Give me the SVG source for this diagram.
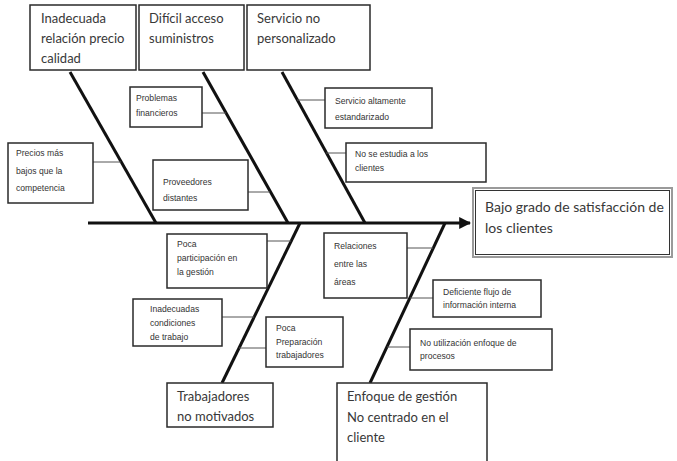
<svg xmlns="http://www.w3.org/2000/svg" width="677" height="461" viewBox="0 0 677 461">
  <defs>
    <marker id="arrow" viewBox="0 0 10 10" refX="9" refY="5" markerWidth="4" markerHeight="4" orient="auto" markerUnits="strokeWidth">
      <path d="M0,0 L10,5 L0,10 z" fill="#111"/>
    </marker>
    <style>
      .box { fill: #fff; stroke: #2a2a2a; stroke-width: 1.5; }
      .big { font-family: Lato, "Open Sans", "Liberation Sans", sans-serif; font-size: 13px; fill: #383838; }
      .small { font-family: "Liberation Sans", Arial, sans-serif; font-size: 8.6px; fill: #333; }
      .bone { stroke: #111; stroke-width: 3; fill: none; stroke-linecap: butt; }
      .link { stroke: #555; stroke-width: 1; fill: none; }
    </style>
  </defs>
  <rect width="677" height="461" fill="#fff"/>

  <!-- spine and bones -->
  <g id="connectors">
    <line class="bone" x1="88" y1="223" x2="470" y2="223" marker-end="url(#arrow)"/>
    <line class="bone" x1="70" y1="72" x2="156" y2="223"/>
    <line class="bone" x1="203" y1="72" x2="288" y2="223"/>
    <line class="bone" x1="282" y1="72" x2="365" y2="223"/>
    <line class="bone" x1="300" y1="223" x2="222" y2="383"/>
    <line class="bone" x1="445" y1="223" x2="370" y2="383"/>
    <line class="link" x1="202" y1="113" x2="226" y2="113"/>
    <line class="link" x1="297" y1="100" x2="325" y2="100"/>
    <line class="link" x1="326" y1="153" x2="346" y2="153"/>
    <line class="link" x1="93" y1="162" x2="121" y2="162"/>
    <line class="link" x1="248" y1="192" x2="270" y2="192"/>
    <line class="link" x1="267" y1="241" x2="291" y2="241"/>
    <line class="link" x1="222" y1="317" x2="254" y2="317"/>
    <line class="link" x1="239" y1="348" x2="266" y2="348"/>
    <line class="link" x1="407" y1="248" x2="433" y2="248"/>
    <line class="link" x1="410" y1="298" x2="433" y2="298"/>
    <line class="link" x1="387" y1="347" x2="410" y2="347"/>
  </g>

  <!-- main categories -->
  <g id="cat-precio">
    <rect class="box" x="30" y="5" width="106" height="65"/>
    <text class="big" x="41" y="23">Inadecuada</text>
    <text class="big" x="41" y="43">relación precio</text>
    <text class="big" x="41" y="63">calidad</text>
  </g>
  <g id="cat-suministros">
    <rect class="box" x="139" y="5" width="105" height="65"/>
    <text class="big" x="149" y="23">Difícil acceso</text>
    <text class="big" x="149" y="43">suministros</text>
  </g>
  <g id="cat-servicio">
    <rect class="box" x="247" y="5" width="123" height="65"/>
    <text class="big" x="257" y="23">Servicio no</text>
    <text class="big" x="257" y="43">personalizado</text>
  </g>
  <g id="cat-trabajadores">
    <rect class="box" x="167" y="383" width="106" height="44"/>
    <text class="big" x="177" y="401">Trabajadores</text>
    <text class="big" x="177" y="421">no motivados</text>
  </g>
  <g id="cat-enfoque">
    <rect class="box" x="337" y="383" width="150" height="85"/>
    <text class="big" x="347" y="401">Enfoque de gestión</text>
    <text class="big" x="347" y="422">No centrado en el</text>
    <text class="big" x="347" y="442">cliente</text>
  </g>

  <!-- effect: double outline -->
  <g id="effect">
    <rect x="473" y="188" width="199" height="69" fill="#fff" stroke="#9a9a9a" stroke-width="2"/>
    <rect x="475.5" y="190.5" width="194" height="64" fill="none" stroke="#333" stroke-width="1"/>
    <text class="big" x="485" y="212" style="font-size:14px">Bajo grado de satisfacción de</text>
    <text class="big" x="485" y="233" style="font-size:14px">los clientes</text>
  </g>

  <!-- sub-causes -->
  <g id="sub-financieros">
    <rect class="box" x="130" y="87" width="72" height="40"/>
    <text class="small" x="136" y="101">Problemas</text>
    <text class="small" x="136" y="116">financieros</text>
  </g>
  <g id="sub-estandarizado">
    <rect class="box" x="325" y="88" width="107" height="40"/>
    <text class="small" x="335" y="104">Servicio altamente</text>
    <text class="small" x="335" y="120">estandarizado</text>
  </g>
  <g id="sub-estudia">
    <rect class="box" x="346" y="143" width="140" height="39"/>
    <text class="small" x="355" y="157">No se estudia a los</text>
    <text class="small" x="355" y="171">clientes</text>
  </g>
  <g id="sub-precios">
    <rect class="box" x="8" y="143" width="85" height="60"/>
    <text class="small" x="16" y="156">Precios más</text>
    <text class="small" x="16" y="174">bajos que la</text>
    <text class="small" x="16" y="191">competencia</text>
  </g>
  <g id="sub-proveedores">
    <rect class="box" x="153" y="160" width="95" height="50"/>
    <text class="small" x="163" y="185">Proveedores</text>
    <text class="small" x="163" y="201">distantes</text>
  </g>
  <g id="sub-participacion">
    <rect class="box" x="167" y="234" width="100" height="54"/>
    <text class="small" x="177" y="247">Poca</text>
    <text class="small" x="177" y="261">participación  en</text>
    <text class="small" x="177" y="275">la gestión</text>
  </g>
  <g id="sub-condiciones">
    <rect class="box" x="133" y="299" width="89" height="47"/>
    <text class="small" x="150" y="312">Inadecuadas</text>
    <text class="small" x="150" y="326">condiciones</text>
    <text class="small" x="150" y="340">de trabajo</text>
  </g>
  <g id="sub-preparacion">
    <rect class="box" x="266" y="317" width="77" height="50"/>
    <text class="small" x="276" y="331">Poca</text>
    <text class="small" x="276" y="345">Preparación</text>
    <text class="small" x="276" y="358">trabajadores</text>
  </g>
  <g id="sub-relaciones">
    <rect class="box" x="324" y="233" width="83" height="65"/>
    <text class="small" x="334" y="249">Relaciones</text>
    <text class="small" x="334" y="267">entre las</text>
    <text class="small" x="334" y="285">áreas</text>
  </g>
  <g id="sub-flujo">
    <rect class="box" x="433" y="280" width="108" height="37"/>
    <text class="small" x="443" y="295">Deficiente flujo de</text>
    <text class="small" x="443" y="308">información interna</text>
  </g>
  <g id="sub-procesos">
    <rect class="box" x="410" y="329" width="142" height="41"/>
    <text class="small" x="420" y="346">No utilización  enfoque de</text>
    <text class="small" x="420" y="359">procesos</text>
  </g>
</svg>
